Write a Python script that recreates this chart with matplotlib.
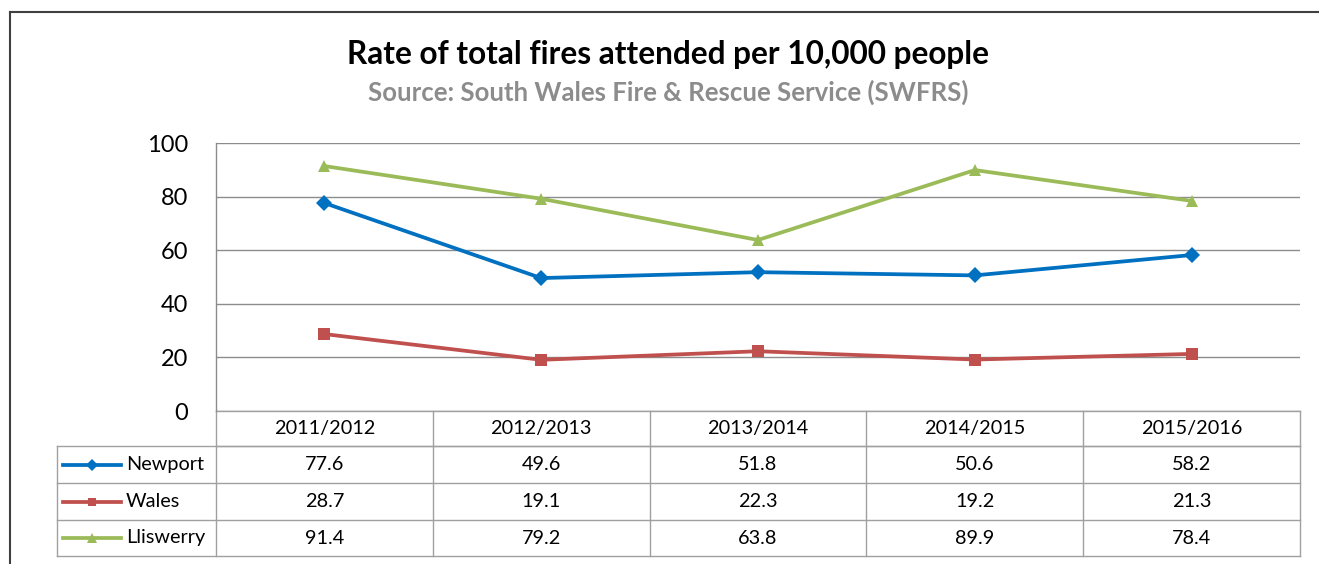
import matplotlib
matplotlib.use('Agg')
import matplotlib.pyplot as plt
from matplotlib.lines import Line2D

plt.rcParams['font.family'] = ['Lato', 'DejaVu Sans']

years = ['2011/2012', '2012/2013', '2013/2014', '2014/2015', '2015/2016']
newport = [77.6, 49.6, 51.8, 50.6, 58.2]
wales = [28.7, 19.1, 22.3, 19.2, 21.3]
lliswerry = [91.4, 79.2, 63.8, 89.9, 78.4]

series_names = ['Newport', 'Wales', 'Lliswerry']
series_values = [newport, wales, lliswerry]
colors = ['#0070C0', '#C0504D', '#9BBB59']
markers = ['D', 's', '^']
marker_sizes = [8, 8, 9]

W, H = 1319, 564
fig = plt.figure(figsize=(W / 100, H / 100), dpi=100)

# outer chart border (cropped on the right and bottom)
fig.add_artist(Line2D([10 / W, 10 / W], [0, 1 - 12 / H], color='#404040', lw=1.5))
fig.add_artist(Line2D([10 / W, 1], [1 - 12 / H, 1 - 12 / H], color='#404040', lw=1.5))

left, right, top, bottom = 216, 1300, 143, 411
ax = fig.add_axes([left / W, 1 - bottom / H, (right - left) / W, (bottom - top) / H])

x = list(range(len(years)))
for name, vals, c, m, ms in zip(series_names, series_values, colors, markers, marker_sizes):
    ax.plot(x, vals, color=c, lw=2.7, marker=m, markersize=ms, markeredgewidth=0,
            label=name, zorder=3)

ax.set_xlim(-0.5, len(years) - 0.5)
ax.set_ylim(0, 100)
ax.set_yticks([0, 20, 40, 60, 80, 100])
ax.set_xticks([])
ax.tick_params(axis='y', length=0, pad=20, labelsize=17, labelcolor='#000000')
ax.yaxis.grid(True, color='#8c8c8c', lw=1)
ax.set_axisbelow(True)
for s in ['top', 'right', 'bottom']:
    ax.spines[s].set_visible(False)
ax.spines['left'].set_color('#8c8c8c')
ax.spines['left'].set_linewidth(1)

# data table under the axis
ph = bottom - top
def ay(py):
    return (bottom - py) / ph

row_lines = [411, 446, 483, 520, 556]
leg_left = (57 - left) / (right - left)
tc = '#a0a0a0'
tkw = dict(transform=ax.transAxes, clip_on=False, color=tc, lw=1)

ax.plot([0, 1], [ay(411), ay(411)], **tkw)
ax.plot([0, 1], [ay(446), ay(446)], **tkw)
for py in row_lines[1:]:
    ax.plot([leg_left, 1], [ay(py), ay(py)], **tkw)
ax.plot([leg_left, leg_left], [ay(446), ay(556)], **tkw)
for k in range(len(years) + 1):
    ax.plot([k / len(years)] * 2, [ay(411), ay(556)], **tkw)

fs = 14.3
for k, yr in enumerate(years):
    ax.text((k + 0.5) / len(years), ay((411 + 446) / 2), yr, transform=ax.transAxes,
            ha='center', va='center', fontsize=fs)

for r, (name, vals, c, m, ms) in enumerate(zip(series_names, series_values, colors,
                                                markers, marker_sizes)):
    yc = ay((row_lines[r + 1] + row_lines[r + 2]) / 2)
    for k, v in enumerate(vals):
        ax.text((k + 0.5) / len(years), yc, f'{v:.1f}', transform=ax.transAxes,
                ha='center', va='center', fontsize=fs)
    x0 = (63 - left) / (right - left)
    x1 = (121 - left) / (right - left)
    ax.plot([x0, x1], [yc, yc], color=c, lw=2.7, transform=ax.transAxes, clip_on=False)
    ax.plot([(x0 + x1) / 2], [yc], color=c, marker=m, markersize=ms - 2, markeredgewidth=0,
            transform=ax.transAxes, clip_on=False)
    ax.text((126 - left) / (right - left), yc, name, transform=ax.transAxes,
            ha='left', va='center', fontsize=fs)

fig.text(668 / W, 1 - 55 / H, 'Rate of total fires attended per 10,000 people',
         ha='center', va='center', fontsize=22.7, fontweight='bold')
fig.text(668 / W, 1 - 92 / H, 'Source: South Wales Fire & Rescue Service (SWFRS)',
         ha='center', va='center', fontsize=18.5, fontweight='bold', color='#8c8c8c')

fig.savefig('out.png', dpi=100)
